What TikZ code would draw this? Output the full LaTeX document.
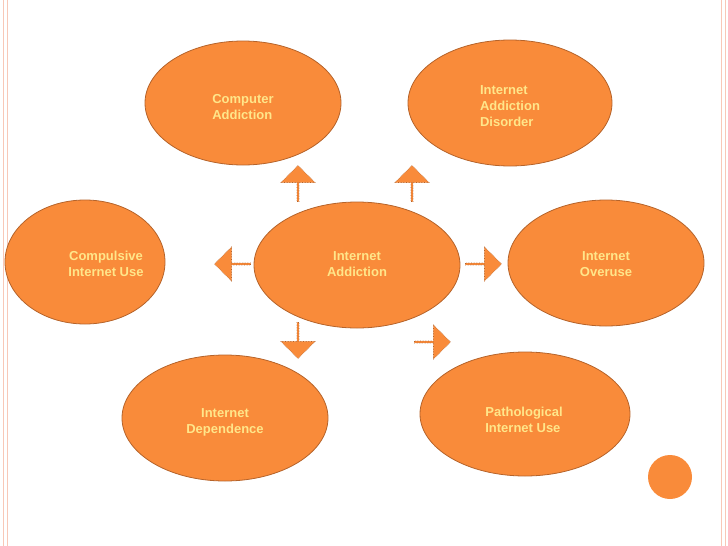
\documentclass[tikz,border=0pt]{standalone}
\usepackage{fontspec}
\setmainfont{Liberation Sans}
\usetikzlibrary{shapes.arrows}
\definecolor{bubble}{HTML}{F98B3A}
\definecolor{rim}{HTML}{B5632A}
\definecolor{word}{HTML}{FFE68A}
\definecolor{edge}{HTML}{F8C8B8}
\begin{document}
\begin{tikzpicture}[
		x=1pt, y=-1pt,
		%Styles
		Bubble/.style={
			draw=rim, fill=bubble, line width=0.8pt,
		},
		Label/.style={
			text=word, font=\fontsize{13}{16}\selectfont\bfseries,
			inner sep=0pt,
		},
		Pointer/.style={
			single arrow, draw=rim, fill=bubble, densely dotted, line width=0.6pt,
			minimum height=36pt, minimum width=34pt,
			single arrow head extend=5pt, inner sep=0pt,
		},
		]
		\useasboundingbox (0,0) rectangle (728,546);
		\draw[edge, line width=1pt] (3,0) -- (3,546) (7,0) -- (7,546);
		\draw[edge, line width=1pt] (721,0) -- (721,546) (725,0) -- (725,546);
		
		\path[Bubble] (243,103) ellipse (98 and 62);
		\path[Bubble] (510,103) ellipse (102 and 63);
		\path[Bubble] (85,262) ellipse (80 and 62);
		\path[Bubble] (357,265) ellipse (103 and 63);
		\path[Bubble] (606,263) ellipse (98 and 63);
		\path[Bubble] (225,418) ellipse (103 and 63);
		\path[Bubble] (525,414) ellipse (105 and 62);
		
		\node[Label, align=left] (computer) at (243,107) {Computer\\Addiction};
		\node[Label, align=left] (disorder) at (510,106) {Internet\\Addiction\\Disorder};
		\node[Label, align=center] (compulsive) at (106,264) {Compulsive\\Internet Use};
		\node[Label, align=center] (addiction) at (357,264) {Internet\\Addiction};
		\node[Label, align=center] (overuse) at (606,264) {Internet\\Overuse};
		\node[Label, align=center] (dependence) at (225,422) {Internet\\Dependence};
		\node[Label, align=left] (pathological) at (524,420) {Pathological\\Internet Use};
		
		\node[Pointer, shape border rotate=108] (toComputer) at (298,184) {};
		\node[Pointer, shape border rotate=68] (toDisorder) at (412,184) {};
		\node[Pointer, shape border rotate=180] (toCompulsive) at (233,264) {};
		\node[Pointer, shape border rotate=0] (toOveruse) at (483,264) {};
		\node[Pointer, shape border rotate=225] (toDependence) at (298,340) {};
		\node[Pointer, shape border rotate=-45] (toPathological) at (432,342) {};
		
		\fill[bubble] (670,477) circle (22);
	\end{tikzpicture}
\end{document}
